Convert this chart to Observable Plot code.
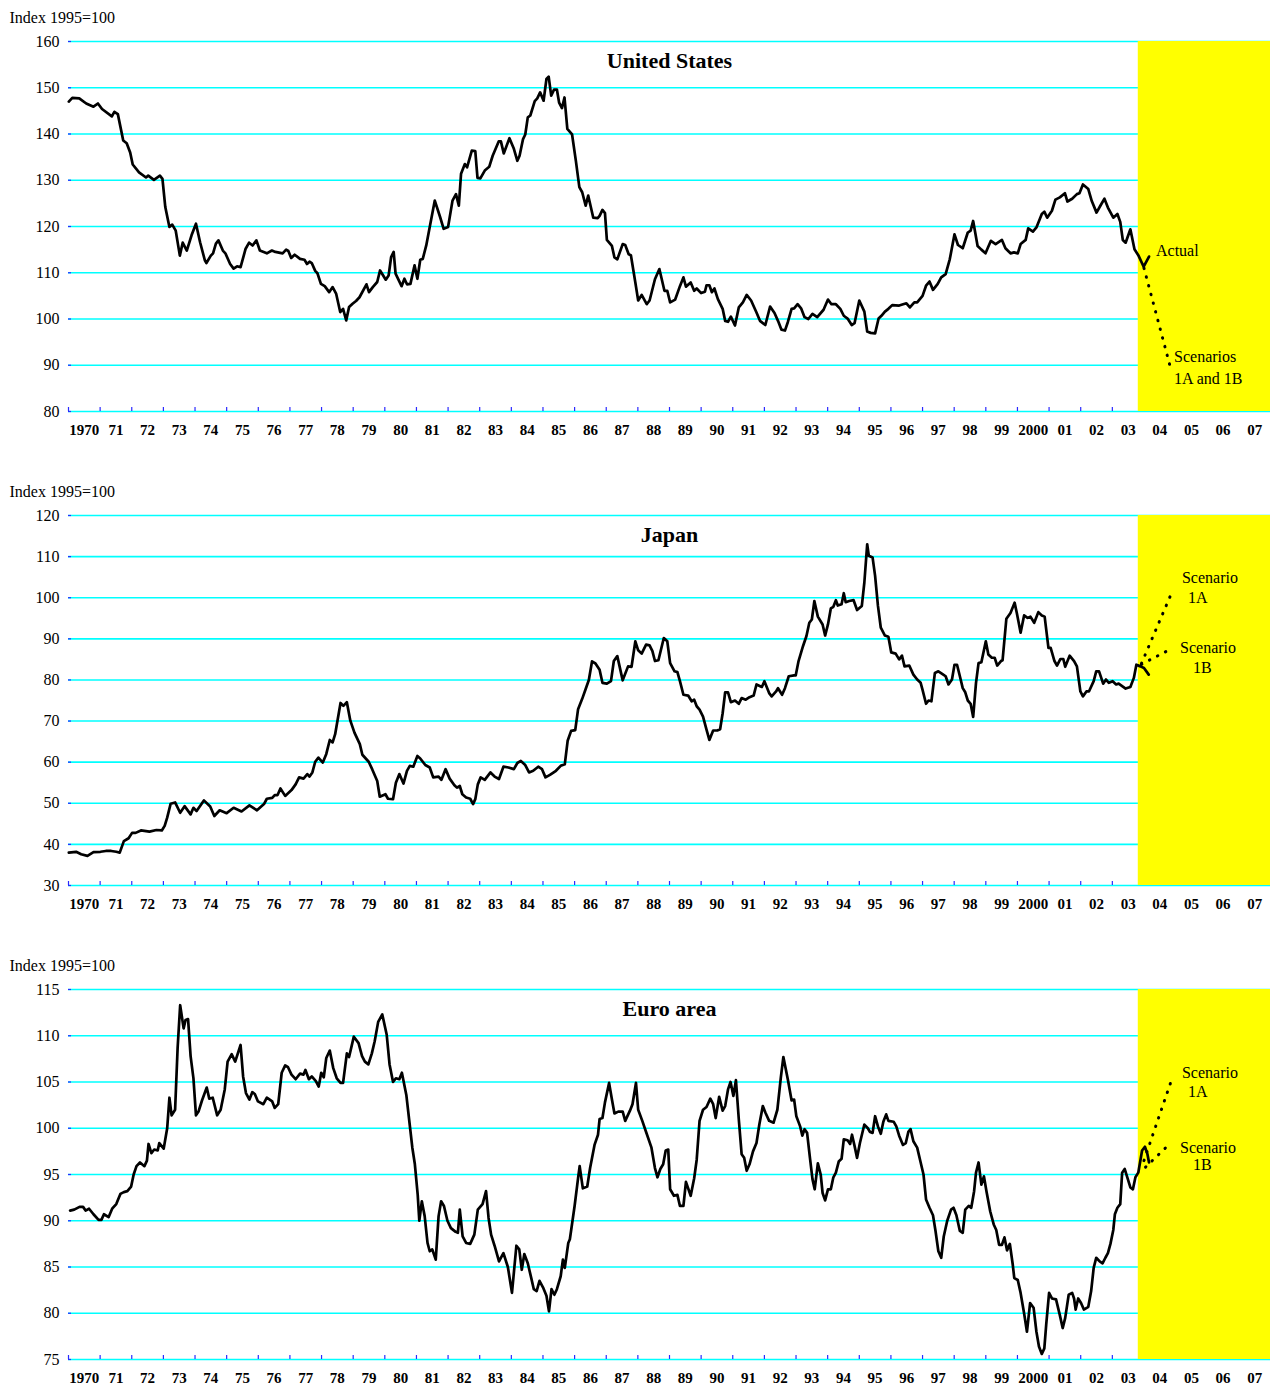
<!DOCTYPE html>
<html><head><meta charset="utf-8">
<script src="https://cdn.jsdelivr.net/npm/d3@7"></script>
<script src="https://cdn.jsdelivr.net/npm/@observablehq/plot@0.6"></script>
<style>
html,body{margin:0;padding:0;background:#fff;overflow:hidden;}
#chart{width:1270px;}
#chart svg{display:block;}
</style></head><body><div id="chart"></div>
<script>
// ---------- shared axis data ----------
const labelYears = d3.range(1970, 2008);
const xLabels = ["1970","71","72","73","74","75","76","77","78","79","80","81","82","83","84","85","86","87","88","89","90","91","92","93","94","95","96","97","98","99","2000","01","02","03","04","05","06","07"];
const xDomain = [1970, 2008];
const shadeStart = 2003.82;
const yAxisTitle = "Index 1995=100";

// ---------- United States ----------
const usTitle = "United States";
const usTicks = [80, 90, 100, 110, 120, 130, 140, 150, 160];
const usDates = [1970.01,1970.12,1970.34,1970.56,1970.79,1970.93,1971.06,1971.37,1971.45,1971.56,1971.73,1971.84,1971.95,1972.03,1972.23,1972.45,1972.52,1972.70,1972.89,1972.97,1973.06,1973.19,1973.28,1973.39,1973.52,1973.61,1973.74,1973.89,1974.03,1974.16,1974.31,1974.36,1974.50,1974.57,1974.66,1974.74,1974.88,1974.96,1975.11,1975.22,1975.33,1975.44,1975.60,1975.71,1975.82,1975.94,1976.05,1976.27,1976.43,1976.54,1976.77,1976.88,1976.95,1977.04,1977.15,1977.32,1977.46,1977.54,1977.62,1977.69,1977.80,1977.87,1977.98,1978.10,1978.24,1978.35,1978.46,1978.59,1978.68,1978.78,1978.87,1978.98,1979.09,1979.20,1979.42,1979.50,1979.62,1979.76,1979.85,1980.03,1980.12,1980.20,1980.28,1980.34,1980.53,1980.62,1980.70,1980.81,1980.94,1981.03,1981.12,1981.20,1981.31,1981.42,1981.58,1981.75,1981.86,1982.00,1982.14,1982.25,1982.34,1982.41,1982.53,1982.60,1982.75,1982.86,1982.93,1983.02,1983.16,1983.30,1983.41,1983.60,1983.67,1983.76,1983.94,1984.08,1984.19,1984.26,1984.37,1984.44,1984.52,1984.60,1984.74,1984.82,1984.91,1985.02,1985.11,1985.18,1985.26,1985.35,1985.44,1985.51,1985.60,1985.68,1985.77,1985.92,1986.04,1986.15,1986.24,1986.35,1986.43,1986.59,1986.73,
1986.79,1986.88,1986.96,1987.02,1987.18,1987.26,1987.35,1987.52,1987.60,1987.71,1987.78,1987.92,1988.01,1988.12,1988.28,1988.37,1988.54,1988.68,1988.84,1988.93,1989.02,1989.18,1989.33,1989.44,1989.52,1989.67,1989.78,1989.86,1990.00,1990.12,1990.17,1990.26,1990.34,1990.42,1990.53,1990.68,1990.76,1990.85,1990.94,1991.07,1991.19,1991.32,1991.44,1991.58,1991.75,1991.86,1992.03,1992.18,1992.32,1992.43,1992.54,1992.65,1992.74,1992.86,1992.94,1993.05,1993.16,1993.27,1993.39,1993.52,1993.67,1993.87,1994.01,1994.12,1994.26,1994.40,1994.51,1994.63,1994.76,1994.85,1995.00,1995.16,1995.25,1995.36,1995.50,1995.61,1995.70,1995.81,1995.92,1996.04,1996.26,1996.49,1996.60,1996.74,1996.83,1997.00,1997.11,1997.22,1997.33,1997.48,1997.59,1997.73,1997.86,1998.01,1998.12,1998.27,1998.43,1998.52,1998.60,1998.74,1998.86,1998.99,1999.16,1999.31,1999.51,1999.62,1999.78,1999.89,2000.01,2000.10,2000.26,2000.34,2000.49,2000.60,2000.77,2000.85,2000.94,2001.09,2001.20,2001.34,2001.50,2001.58,2001.73,2001.88,2001.96,2002.07,2002.24,2002.35,2002.50,2002.63,2002.75,2002.86,2003.03,2003.16,2003.25,2003.33,2003.42,2003.57,2003.70,2003.82,2003.99,2004.16];
const usValues = [147.0,147.8,147.7,146.6,145.9,146.6,145.4,143.8,144.8,144.3,138.6,138.0,136.0,133.4,131.7,130.6,131.0,130.1,131.0,130.3,124.2,119.9,120.4,119.1,113.7,116.5,114.8,118.1,120.6,116.6,112.7,112.1,113.7,114.2,116.3,117.0,114.8,114.2,111.9,110.9,111.4,111.2,115.2,116.5,115.9,117.0,114.8,114.2,114.8,114.5,114.2,115.0,114.7,113.2,113.9,113.0,112.8,111.9,112.4,112.1,110.4,109.9,107.6,107.1,105.8,106.9,105.5,101.5,102.2,99.7,102.6,103.3,103.9,104.7,107.5,105.8,106.9,108.0,110.5,108.5,109.4,113.4,114.5,109.8,107.1,108.7,107.5,107.6,111.6,108.7,112.8,113.0,115.9,119.9,125.6,122.0,119.5,119.9,125.6,127.0,124.5,131.4,133.5,132.8,136.4,136.3,130.5,130.4,132.1,132.9,135.3,138.4,138.4,135.8,139.1,136.8,134.2,135.3,138.9,139.9,143.6,144.0,147.1,147.7,149.0,147.2,151.9,152.4,148.3,149.6,149.6,146.8,145.6,147.9,141.1,139.9,134.2,128.5,127.4,124.5,126.7,121.9,121.8,
122.3,123.6,122.9,117.1,115.8,113.3,112.9,116.2,116.0,114.0,113.8,107.9,104.0,105.2,103.2,104.0,108.6,110.8,106.1,106.1,103.6,104.2,107.1,109.0,107.0,107.9,106.1,106.6,105.6,105.9,107.3,107.3,105.8,106.6,104.3,102.2,99.6,99.4,100.5,98.6,102.5,103.6,105.2,104.0,101.4,99.6,98.7,102.7,101.3,99.6,97.7,97.5,99.3,102.2,102.3,103.2,102.3,100.4,100.0,101.1,100.4,102.0,104.2,103.2,103.2,102.2,100.7,100.1,98.7,99.1,104.0,101.6,97.3,97.0,96.9,100.1,100.7,101.6,102.2,103.0,102.9,103.4,102.5,103.6,103.6,105.0,107.2,108.1,106.3,107.6,109.0,109.7,112.9,118.3,116.0,115.3,118.7,119.1,121.2,115.8,115.0,114.2,116.9,116.2,117.1,115.3,114.2,114.4,114.2,116.2,117.1,119.6,118.9,119.8,122.7,123.2,121.9,123.4,125.8,126.3,127.2,125.4,126.0,127.0,127.2,129.1,128.1,125.5,123.0,124.6,126.0,124.1,121.9,122.7,121.0,117.1,116.5,119.4,115.1,113.8,111.3,113.5];
const usScenarioDates = [2004.0, 2004.81];
const usScenarioValues = [111.0, 90.2];
const usNotes = [
  {x: 2004.38, y: 114.8, text: "Actual"},
  {x: 2004.95, y: 91.9, text: "Scenarios"},
  {x: 2004.95, y: 87.1, text: "1A and 1B"}
];

// ---------- Japan ----------
const jpTitle = "Japan";
const jpTicks = [30, 40, 50, 60, 70, 80, 90, 100, 110, 120];
const jpDates = [1970.01,1970.24,1970.40,1970.60,1970.79,1971.01,1971.18,1971.35,1971.51,1971.62,1971.75,1971.90,1972.01,1972.12,1972.29,1972.56,1972.78,1972.95,1973.04,1973.12,1973.23,1973.37,1973.53,1973.67,1973.86,1973.95,1974.05,1974.28,1974.48,1974.61,1974.78,1975.00,1975.22,1975.47,1975.72,1975.96,1976.18,1976.27,1976.44,1976.52,1976.61,1976.70,1976.85,1977.05,1977.18,1977.29,1977.43,1977.55,1977.62,1977.71,1977.80,1977.90,1978.04,1978.15,1978.26,1978.35,1978.43,1978.60,1978.69,1978.80,1978.91,1979.04,1979.21,1979.29,1979.49,1979.60,1979.76,1979.84,1980.02,1980.10,1980.26,1980.35,1980.46,1980.59,1980.70,1980.79,1980.90,1981.03,1981.12,1981.28,1981.42,1981.53,1981.70,1981.79,1981.92,1982.05,1982.20,1982.28,1982.37,1982.45,1982.57,1982.70,1982.79,1982.86,1982.94,1983.03,1983.16,1983.34,1983.47,1983.61,1983.75,1983.91,1984.08,1984.19,1984.30,1984.44,1984.56,1984.69,1984.85,1984.97,1985.08,1985.22,1985.41,1985.56,1985.69,1985.78,1985.89,1986.02,1986.11,1986.24,1986.35,1986.45,1986.55,1986.66,
1986.79,1986.88,1987.02,1987.15,1987.24,1987.35,1987.52,1987.69,1987.80,1987.92,1988.01,1988.12,1988.26,1988.37,1988.46,1988.54,1988.65,1988.82,1988.93,1989.02,1989.16,1989.25,1989.33,1989.44,1989.59,1989.70,1989.78,1989.86,1989.95,1990.06,1990.17,1990.26,1990.38,1990.51,1990.60,1990.68,1990.76,1990.85,1990.94,1991.07,1991.19,1991.28,1991.41,1991.53,1991.66,1991.75,1991.92,1992.00,1992.15,1992.23,1992.37,1992.43,1992.56,1992.65,1992.77,1992.94,1992.99,1993.08,1993.22,1993.33,1993.42,1993.50,1993.58,1993.69,1993.84,1993.92,1994.01,1994.10,1994.18,1994.26,1994.32,1994.44,1994.51,1994.57,1994.68,1994.82,1994.93,1995.08,1995.16,1995.25,1995.30,1995.42,1995.50,1995.59,1995.68,1995.81,1995.92,1996.01,1996.15,1996.26,1996.35,1996.43,1996.58,1996.71,1996.83,1996.94,1997.00,1997.11,1997.19,1997.28,1997.39,1997.50,1997.62,1997.73,1997.82,1997.93,1998.01,1998.09,1998.18,1998.27,1998.35,1998.43,1998.52,1998.60,1998.69,1998.77,1998.86,1999.00,1999.08,1999.19,1999.28,1999.36,1999.48,1999.53,1999.65,1999.78,1999.91,1999.98,2000.10,2000.21,2000.32,2000.41,2000.53,2000.66,2000.77,2000.86,2000.98,2001.05,2001.17,2001.25,2001.36,2001.45,2001.51,2001.65,2001.79,2001.88,2001.99,2002.07,2002.18,2002.26,2002.41,2002.49,2002.58,2002.71,2002.80,2002.89,2003.01,2003.12,2003.20,2003.31,2003.42,2003.57,2003.68,2003.76,2003.89,2004.00,2004.15];
const jpValues = [38.0,38.2,37.6,37.2,38.1,38.2,38.4,38.4,38.2,38.0,40.8,41.5,42.8,42.8,43.4,43.1,43.5,43.4,44.5,46.5,49.9,50.2,47.7,49.3,47.3,48.9,48.1,50.7,49.2,46.9,48.3,47.6,48.9,48.0,49.5,48.3,49.8,51.1,51.3,52.0,52.0,53.6,51.8,53.2,54.6,56.3,56.0,57.1,56.5,57.5,60.1,61.1,59.9,62.0,65.4,64.8,66.8,74.4,73.7,74.6,70.1,67.2,64.4,61.8,60.1,58.3,55.4,51.6,52.2,51.1,51.0,55.0,57.1,54.8,57.9,59.1,58.9,61.5,60.9,59.3,58.7,56.3,56.5,55.7,58.3,56.0,54.4,53.8,54.2,52.2,51.4,51.1,49.8,51.0,54.6,56.3,55.7,57.5,56.5,55.9,58.9,58.7,58.3,59.8,60.3,59.3,57.5,57.9,58.9,58.3,56.3,56.9,57.9,59.1,59.5,65.2,67.6,67.8,72.9,75.4,77.8,80.0,84.5,84.0,
82.5,79.3,79.1,79.7,84.6,85.8,79.9,83.3,83.2,89.4,87.2,86.4,88.6,88.4,87.0,84.6,84.8,90.2,89.4,84.1,82.1,81.9,79.7,76.4,76.2,74.8,75.2,73.6,72.8,71.1,67.9,65.4,67.7,67.7,68.0,71.9,77.0,77.0,74.6,75.0,74.2,75.6,75.2,75.8,76.2,78.9,78.3,79.7,76.8,76.0,77.2,78.0,76.4,78.0,80.9,81.1,81.1,84.6,88.2,90.7,93.9,94.7,99.2,95.4,93.5,90.8,93.5,97.4,97.8,99.4,98.1,98.4,101.1,98.9,99.2,99.4,97.0,98.0,103.7,113.0,110.2,109.8,105.3,98.0,92.7,90.8,90.5,86.7,86.4,85.0,85.9,83.3,83.5,81.3,80.1,79.3,77.6,74.2,75.0,74.8,81.7,82.1,81.5,80.9,78.9,80.1,83.7,83.7,80.9,78.0,77.0,75.0,74.2,71.0,79.3,84.1,84.3,89.4,86.2,85.4,85.4,83.5,84.6,84.8,94.9,96.3,98.8,96.3,91.5,95.7,95.1,95.4,93.9,96.5,95.7,95.4,87.8,87.8,84.6,83.5,85.1,85.1,83.2,85.9,84.6,83.3,77.2,76.0,77.2,77.2,79.7,82.1,82.1,79.1,80.1,79.3,79.7,78.9,79.1,78.5,77.9,78.3,80.5,83.7,83.3,82.9,81.3];
const jpScenario1ADates = [2003.92, 2004.87];
const jpScenario1AValues = [84.0, 101.1];
const jpScenario1BDates = [2003.92, 2004.79];
const jpScenario1BValues = [83.8, 87.3];
const jpNotes = [
  {x: 2005.20, y: 104.9, text: "Scenario"},
  {x: 2005.39, y: 100.0, text: "1A"},
  {x: 2005.14, y: 87.9, text: "Scenario"},
  {x: 2005.55, y: 83.0, text: "1B"}
];

// ---------- Euro area ----------
const euTitle = "Euro area";
const euTicks = [75, 80, 85, 90, 95, 100, 105, 110, 115];
const euDates = [1970.05,1970.18,1970.35,1970.46,1970.54,1970.65,1970.79,1970.95,1971.04,1971.12,1971.27,1971.38,1971.51,1971.64,1971.75,1971.86,1971.98,1972.06,1972.15,1972.26,1972.40,1972.48,1972.53,1972.62,1972.71,1972.82,1972.87,1973.01,1973.12,1973.19,1973.26,1973.37,1973.45,1973.53,1973.64,1973.70,1973.78,1973.86,1973.95,1974.03,1974.11,1974.22,1974.37,1974.45,1974.56,1974.70,1974.81,1974.94,1975.03,1975.16,1975.27,1975.44,1975.52,1975.61,1975.72,1975.81,1975.89,1975.99,1976.16,1976.27,1976.44,1976.52,1976.63,1976.74,1976.85,1976.94,1977.05,1977.18,1977.32,1977.43,1977.49,1977.60,1977.69,1977.82,1977.91,1977.99,1978.07,1978.15,1978.26,1978.37,1978.48,1978.60,1978.68,1978.80,1978.87,1979.02,1979.17,1979.28,1979.37,1979.48,1979.59,1979.68,1979.79,1979.92,1980.06,1980.15,1980.26,1980.35,1980.46,1980.54,1980.68,1980.81,1980.87,1980.95,1981.04,1981.09,1981.17,1981.26,1981.35,1981.42,1981.50,1981.61,1981.70,1981.78,1981.87,1981.98,1982.09,1982.24,1982.31,1982.37,1982.46,1982.57,1982.70,1982.83,1982.94,1983.09,1983.20,1983.28,1983.36,1983.47,1983.61,1983.75,1983.89,1984.02,1984.16,1984.25,1984.33,1984.41,1984.52,1984.63,1984.71,1984.80,1984.89,1985.00,1985.11,1985.19,1985.27,1985.36,1985.44,1985.56,1985.63,1985.69,1985.80,1985.85,1986.00,1986.11,1986.16,1986.26,1986.40,1986.49,1986.63,1986.74,
1986.79,1986.88,1986.96,1987.09,1987.18,1987.26,1987.38,1987.52,1987.60,1987.75,1987.83,1987.94,1988.01,1988.14,1988.26,1988.43,1988.54,1988.62,1988.71,1988.80,1988.88,1988.96,1989.02,1989.14,1989.25,1989.33,1989.44,1989.52,1989.67,1989.78,1989.86,1989.95,1990.06,1990.17,1990.29,1990.38,1990.46,1990.57,1990.68,1990.76,1990.85,1990.93,1991.02,1991.10,1991.19,1991.28,1991.36,1991.44,1991.53,1991.64,1991.75,1991.84,1991.95,1992.03,1992.15,1992.29,1992.41,1992.52,1992.60,1992.74,1992.86,1992.94,1993.01,1993.13,1993.20,1993.27,1993.35,1993.44,1993.52,1993.59,1993.69,1993.78,1993.84,1993.92,1994.01,1994.10,1994.18,1994.26,1994.35,1994.44,1994.51,1994.63,1994.71,1994.77,1994.85,1994.93,1995.02,1995.16,1995.27,1995.34,1995.42,1995.50,1995.59,1995.68,1995.76,1995.85,1995.92,1996.09,1996.17,1996.26,1996.38,1996.47,1996.55,1996.62,1996.71,1996.83,1996.92,1997.03,1997.11,1997.22,1997.33,1997.41,1997.50,1997.59,1997.67,1997.78,1997.90,1997.98,1998.07,1998.18,1998.27,1998.35,1998.46,1998.54,1998.63,1998.69,1998.77,1998.86,1998.94,1999.02,1999.14,1999.25,1999.33,1999.42,1999.51,1999.59,1999.67,1999.76,1999.85,1999.90,2000.01,2000.10,2000.21,2000.30,2000.40,2000.51,2000.60,2000.68,2000.77,2000.85,2000.91,2001.00,2001.09,2001.22,2001.34,2001.43,2001.51,2001.62,2001.73,2001.79,2001.84,2001.92,2002.01,2002.10,2002.24,2002.33,2002.41,2002.49,2002.60,2002.69,2002.78,2002.86,2002.94,2003.03,2003.08,2003.16,2003.25,2003.31,2003.39,2003.48,2003.57,2003.65,2003.73,2003.82,2003.94,2004.03,2004.11,2004.16];
const euValues = [91.1,91.2,91.5,91.5,91.1,91.3,90.7,90.1,90.1,90.7,90.4,91.3,91.8,92.9,93.1,93.2,93.7,95.0,95.9,96.3,95.9,96.5,98.3,97.3,97.7,97.6,98.4,97.8,100.0,103.3,101.4,102.0,108.7,113.3,110.8,111.7,111.8,107.8,105.4,101.4,101.8,103.0,104.4,103.2,103.3,101.4,102.0,104.2,107.2,108.0,107.2,109.0,105.6,103.8,103.1,103.9,103.7,102.9,102.6,103.3,102.9,102.2,102.6,106.0,106.8,106.6,105.8,105.3,105.9,105.8,106.3,105.3,105.6,105.1,104.5,106.0,105.5,107.6,108.4,106.5,105.4,104.9,104.9,108.1,107.7,109.9,109.2,107.8,107.2,106.9,108.1,109.4,111.5,112.3,110.1,106.9,105.0,105.4,105.3,106.0,103.6,99.7,97.9,96.1,92.8,90.0,92.1,90.5,87.6,86.7,86.9,85.8,90.5,92.1,91.6,90.0,89.2,88.8,88.7,91.2,88.3,87.6,87.5,88.5,91.2,91.8,93.2,90.3,88.5,87.3,85.6,86.5,85.0,82.2,87.3,86.9,84.7,86.4,85.4,83.8,82.6,82.4,83.5,82.8,81.9,80.2,82.6,82.0,82.6,84.0,85.8,84.9,87.6,88.0,91.6,94.6,95.9,93.5,93.7,95.7,98.2,99.3,
101.0,101.1,102.8,104.9,103.1,101.6,101.8,101.8,100.8,101.9,102.6,104.9,102.0,100.8,99.6,97.9,95.7,94.7,95.6,96.1,97.6,97.7,93.4,92.7,92.8,91.6,91.6,94.2,92.7,94.6,96.6,100.8,102.0,102.3,103.2,102.6,101.1,103.4,101.9,102.4,104.2,105.0,103.5,105.2,101.0,97.2,96.8,95.4,96.1,97.5,98.4,100.4,102.4,101.7,100.8,100.6,102.0,105.5,107.7,105.3,103.0,103.1,101.3,100.2,99.2,99.9,99.5,96.8,94.5,93.4,96.2,95.0,93.0,92.2,93.4,93.4,94.7,95.2,96.4,96.7,98.8,98.7,98.3,99.3,98.1,96.8,98.4,100.4,100.0,99.6,99.5,101.3,100.2,99.4,100.7,101.5,100.8,100.7,100.2,99.2,98.2,98.4,99.6,99.9,98.6,97.9,96.6,95.0,92.3,91.4,90.6,88.9,86.7,86.0,88.3,90.0,91.2,91.4,90.6,88.9,88.7,91.2,91.6,91.4,93.2,95.2,96.3,93.9,94.8,93.2,91.0,89.6,89.0,87.4,87.4,88.2,86.8,87.5,85.3,83.8,83.6,82.2,80.0,78.0,81.1,80.6,78.0,76.4,75.6,76.2,78.8,82.2,81.6,81.5,79.8,78.4,79.5,82.0,82.2,81.6,80.4,81.6,81.1,80.4,80.7,82.4,84.9,86.0,85.6,85.4,86.0,86.5,87.5,89.0,90.7,91.4,91.8,95.2,95.6,94.6,93.6,93.4,94.7,95.2,97.6,98.0,97.2,96.3];
const euScenario1ADates = [2004.0, 2004.87];
const euScenario1AValues = [96.5, 105.2];
const euScenario1BDates = [2004.05, 2004.84];
const euScenario1BValues = [95.8, 98.4];
const euNotes = [
  {x: 2005.20, y: 106.0, text: "Scenario"},
  {x: 2005.39, y: 103.9, text: "1A"},
  {x: 2005.14, y: 97.9, text: "Scenario"},
  {x: 2005.55, y: 96.0, text: "1B"}
];

// ---------- drawing ----------
const FONT = "'Liberation Serif', 'Times New Roman', serif";
const GRID = "#00ffff";
const TICK = "#2a2aff";
const SHADE = "#ffff00";
const PLOT_W = 1270 - 68;
const PLOT_H = 370;

function zip(xs, ys) { return xs.map((x, i) => ({x, y: ys[i]})); }

function panel({title, ticks, dates, values, scenarios, notes, height}) {
  const yDomain = [ticks[0], ticks[ticks.length - 1]];
  const series = zip(dates, values);
  const marks = [
    Plot.ruleY(ticks, {stroke: GRID, strokeWidth: 1.6}),
    Plot.tickY(ticks, {stroke: TICK, strokeWidth: 1.2, insetRight: PLOT_W - 3}),
    Plot.tickX(labelYears, {stroke: TICK, strokeWidth: 1.2, insetTop: PLOT_H - 4}),
    Plot.rect([{x1: shadeStart, x2: xDomain[1], y1: yDomain[0], y2: yDomain[1]}],
      {x1: "x1", x2: "x2", y1: "y1", y2: "y2", fill: SHADE}),
    Plot.line(series, {x: "x", y: "y", stroke: "#000", strokeWidth: 2.7, strokeLinejoin: "round"}),
    ...scenarios.map(s => Plot.line(zip(s.dates, s.values), {x: "x", y: "y", stroke: "#000", strokeWidth: 3, strokeDasharray: "0.5 8.5", strokeLinecap: "round"})),
    Plot.text(notes, {x: "x", y: "y", text: "text", textAnchor: "start", lineAnchor: "middle", fontSize: 16, fill: "#000"}),
    Plot.text([title], {frameAnchor: "top", dy: 19, lineAnchor: "middle", fontSize: 22, fontWeight: "bold", fill: "#000"}),
    Plot.text([yAxisTitle], {frameAnchor: "top-left", dx: -59, dy: -24, textAnchor: "start", lineAnchor: "middle", fontSize: 16, fill: "#000"}),
    Plot.axisY(ticks, {tickSize: 0, tickPadding: 9, fontSize: 16, fill: "#000"}),
    Plot.axisX(labelYears.map(y => y + 0.5), {tickSize: 0, tickPadding: 13, fontSize: 15, fontWeight: "bold", fill: "#000",
      tickFormat: d => xLabels[Math.round(d - 0.5) - 1970]})
  ];
  return Plot.plot({
    width: 1270, height,
    marginLeft: 68, marginRight: 0, marginTop: 41, marginBottom: height - 41 - PLOT_H,
    style: {fontFamily: FONT, fontSize: "16px", background: "#fff", color: "#000", overflow: "visible"},
    x: {domain: xDomain, axis: null},
    y: {domain: yDomain, axis: null},
    marks
  });
}

const root = document.getElementById("chart");
root.append(panel({title: usTitle, ticks: usTicks, dates: usDates, values: usValues,
  scenarios: [{dates: usScenarioDates, values: usScenarioValues}], notes: usNotes, height: 474}));
root.append(panel({title: jpTitle, ticks: jpTicks, dates: jpDates, values: jpValues,
  scenarios: [{dates: jpScenario1ADates, values: jpScenario1AValues}, {dates: jpScenario1BDates, values: jpScenario1BValues}], notes: jpNotes, height: 474}));
root.append(panel({title: euTitle, ticks: euTicks, dates: euDates, values: euValues,
  scenarios: [{dates: euScenario1ADates, values: euScenario1AValues}, {dates: euScenario1BDates, values: euScenario1BValues}], notes: euNotes, height: 439}));
</script>
</body></html>
